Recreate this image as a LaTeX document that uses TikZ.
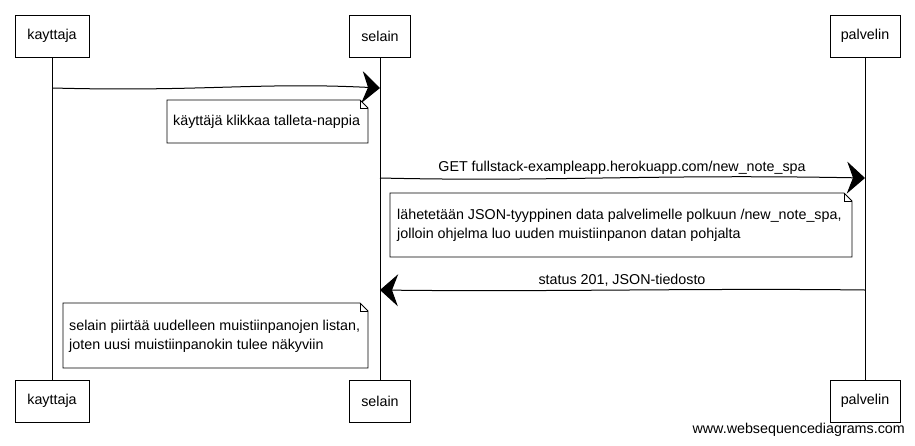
\documentclass[tikz,border=0pt]{standalone}
\usepackage{fontspec}
\setmainfont{Liberation Sans}
\usetikzlibrary{arrows.meta}
\begin{document}
\begin{tikzpicture}[x=1pt,y=-1pt,
  actor/.style={draw, line width=0.8pt, minimum height=42pt, inner sep=0pt, font=\fontsize{14.3}{17}\selectfont},
  life/.style={line width=0.8pt},
  msg/.style={line width=1pt, -{Stealth[length=18pt,width=32pt,inset=6pt]}},
  notebox/.style={draw, line width=0.8pt, fill=white},
  fold/.style={line width=0.8pt},
  lbl/.style={font=\fontsize{14.3}{17}\selectfont, inner sep=0pt},
  notetext/.style={font=\fontsize{14.3}{19}\selectfont, align=left, inner sep=0pt, anchor=west}
]
\useasboundingbox (0,0) rectangle (915,445);
% actors top
\node[actor, minimum width=74pt] (kt) at (52,36) {kayttaja};
\node[actor, minimum width=61pt] (st) at (380,36) {selain};
\node[actor, minimum width=70pt] (pt) at (865,36) {palvelin};
% actors bottom
\node[actor, minimum width=74pt] (kb) at (52,401) {kayttaja};
\node[actor, minimum width=61pt] (sb) at (380,401) {selain};
\node[actor, minimum width=70pt] (pb) at (865,401) {palvelin};
% lifelines
\draw[life] (kt.south) -- (kb.north);
\draw[life] (st.south) -- (sb.north);
\draw[life] (pt.south) -- (pb.north);
% message points
\coordinate (m1a) at (53,88);
\coordinate (m1b) at (380,88);
\coordinate (m2a) at (380,178);
\coordinate (m2b) at (865,178);
\coordinate (m3a) at (865,290);
\coordinate (m3b) at (380,290);
% messages
\draw[msg] (m1a) .. controls (200,92) and (260,82) .. (m1b);
\draw[msg] (m2a) .. controls (550,182) and (650,174) .. (m2b);
\node[lbl] (l2) at (622,168) {GET fullstack-exampleapp.herokuapp.com/new\_note\_spa};
\draw[msg] (m3a) .. controls (700,288) and (550,292) .. (m3b);
\node[lbl] (l3) at (622,280) {status 201, JSON-tiedosto};
% note 1
\draw[notebox] (167,100) -- (360,100) -- (368,108) -- (368,143) -- (167,143) -- cycle;
\draw[fold] (360,100) -- (360,108) -- (368,108);
\node[notetext] (n1) at (173,122) {käyttäjä klikkaa talleta-nappia};
% note 2
\draw[notebox] (390,193) -- (844,193) -- (852,201) -- (852,257) -- (390,257) -- cycle;
\draw[fold] (844,193) -- (844,201) -- (852,201);
\node[notetext] (n2) at (397,225) {lähetetään JSON-tyyppinen data palvelimelle polkuun /new\_note\_spa,\\jolloin ohjelma luo uuden muistiinpanon datan pohjalta};
% note 3
\draw[notebox] (63,303) -- (360,303) -- (368,311) -- (368,368) -- (63,368) -- cycle;
\draw[fold] (360,303) -- (360,311) -- (368,311);
\node[notetext] (n3) at (69,336) {selain piirtää uudelleen muistiinpanojen listan,\\joten uusi muistiinpanokin tulee näkyviin};
% footer
\node[lbl, anchor=east] (ft) at (905,430) {www.websequencediagrams.com};
\end{tikzpicture}
\end{document}
